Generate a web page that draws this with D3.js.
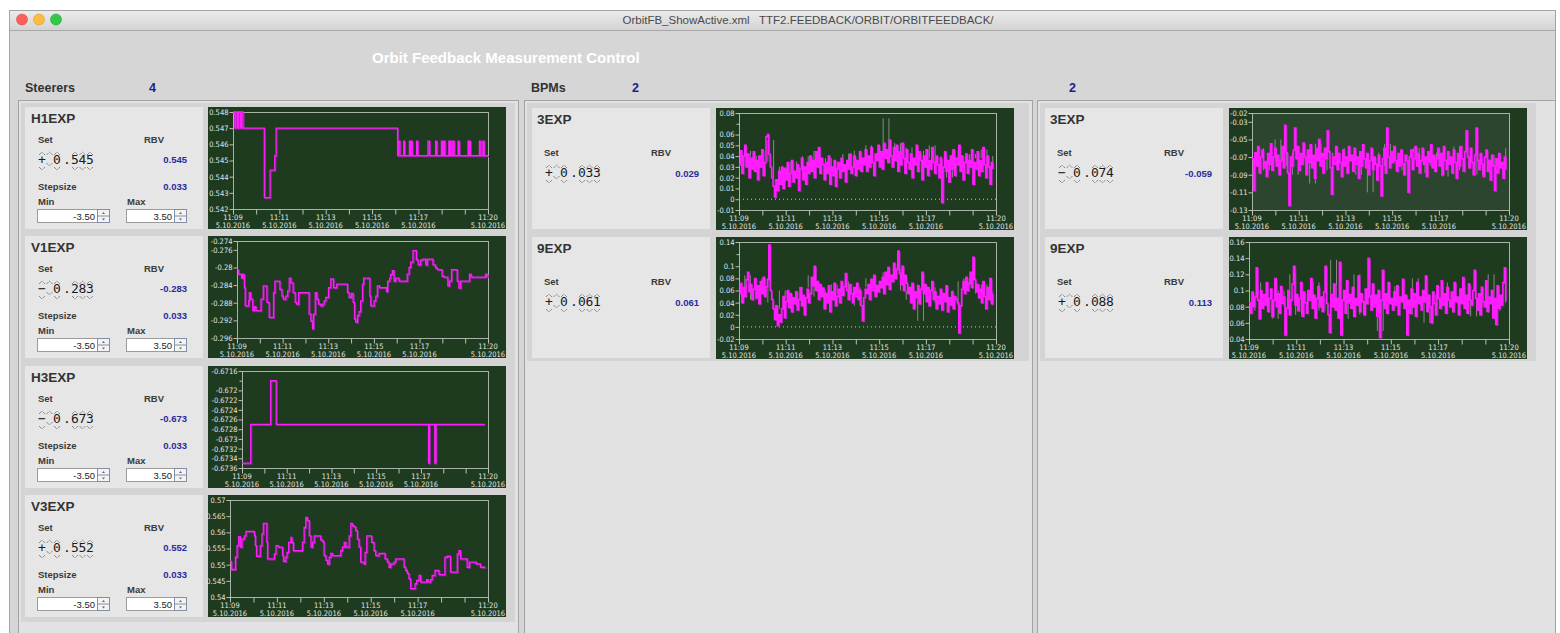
<!DOCTYPE html>
<html><head><meta charset="utf-8">
<script src="https://cdn.jsdelivr.net/npm/d3@7"></script>
<style>
html,body{margin:0;padding:0;background:#fff;overflow:hidden;}
svg{display:block;}
</style></head>
<body><svg id="screen" width="1560" height="633"></svg>
<script>
// ---------- panel content ----------
const windowTitle = "OrbitFB_ShowActive.xml   TTF2.FEEDBACK/ORBIT/ORBITFEEDBACK/";
const mainTitle = "Orbit Feedback Measurement Control";
const steererCount = 4, bpmCountA = 2, bpmCountB = 2;

const steererNames = ["H1EXP", "V1EXP", "H3EXP", "V3EXP"];
const steererSet = ["+0.545", "-0.283", "-0.673", "+0.552"];
const steererRbv = ["0.545", "-0.283", "-0.673", "0.552"];
const steererStep = ["0.033", "0.033", "0.033", "0.033"];
const steererMin = ["-3.50", "-3.50", "-3.50", "-3.50"];
const steererMax = ["3.50", "3.50", "3.50", "3.50"];

const bpmNames = ["3EXP", "9EXP"];
const bpmSetA = ["+0.033", "+0.061"];
const bpmRbvA = ["0.029", "0.061"];
const bpmSetB = ["-0.074", "+0.088"];
const bpmRbvB = ["-0.059", "0.113"];

// ---------- time axis (minutes after 11:09, 5.10.2016) ----------
const dateLabel = "5.10.2016";
const xTickMinutes = [0, 1, 2, 3, 4, 5, 6, 7, 8, 9, 10, 11];
const xLabelMinutes = [0, 2, 4, 6, 8, 11];

// ---------- y ticks ----------
const h1Ticks = [0.542, 0.543, 0.544, 0.545, 0.546, 0.547, 0.548];
const v1Ticks = [-0.296, -0.292, -0.288, -0.284, -0.28, -0.276, -0.274];
const h3Ticks = [-0.6736, -0.6734, -0.6732, -0.673, -0.6728, -0.6726, -0.6724, -0.6722, -0.672, -0.6716];
const h3Unlabeled = [-0.6718];
const v3Ticks = [0.54, 0.545, 0.55, 0.555, 0.56, 0.565, 0.57];
const a3Ticks = [-0.01, 0, 0.01, 0.02, 0.03, 0.04, 0.05, 0.06, 0.08];
const a3Unlabeled = [0.07];
const a9Ticks = [-0.02, 0, 0.02, 0.04, 0.06, 0.08, 0.1, 0.14];
const a9Unlabeled = [0.12];
const b3Ticks = [-0.13, -0.11, -0.09, -0.07, -0.05, -0.03, -0.02];
const b9Ticks = [0.04, 0.06, 0.08, 0.1, 0.12, 0.14, 0.16];

// ---------- steerer traces (step series) ----------
const h1Time = [0, 0.08, 0.12, 0.2, 0.24, 0.32, 0.36, 0.43, 1.35, 1.6, 1.8, 1.86, 7.1, 7.13, 7.2, 7.36, 7.4, 7.61, 7.65, 7.68, 7.73, 7.92, 7.97, 8.41, 8.48, 8.74, 8.79, 8.99, 9.03, 9.06, 9.1, 9.12, 9.14, 9.31, 9.35, 9.37, 9.41, 9.48, 9.54, 9.71, 9.76, 10.14, 10.18, 10.2, 10.24, 10.63, 10.69, 10.78, 10.83, 11];
const h1Value = [0.548, 0.547, 0.548, 0.547, 0.548, 0.547, 0.548, 0.547, 0.5427, 0.5444, 0.5453, 0.547, 0.5453, 0.5462, 0.5453, 0.5462, 0.5453, 0.5462, 0.5453, 0.5462, 0.5453, 0.5462, 0.5453, 0.5462, 0.5453, 0.5462, 0.5453, 0.5462, 0.5453, 0.5462, 0.5453, 0.5462, 0.5453, 0.5462, 0.5453, 0.5462, 0.5453, 0.5462, 0.5453, 0.5462, 0.5453, 0.5462, 0.5453, 0.5462, 0.5453, 0.5462, 0.5453, 0.5462, 0.5453, 0.5453];

const v1Time = [0, 0.06, 0.2, 0.25, 0.32, 0.36, 0.51, 0.54, 0.6, 0.69, 0.76, 0.83, 1.05, 1.15, 1.31, 1.41, 1.6, 1.66, 1.88, 1.97, 2.03, 2.14, 2.22, 2.29, 2.36, 2.46, 2.55, 2.61, 2.7, 3.16, 3.24, 3.31, 3.35, 3.43, 3.5, 3.57, 3.67, 3.75, 3.82, 3.89, 4.01, 4.11, 4.23, 4.37, 4.84, 4.91, 5.01, 5.09, 5.15, 5.2, 5.28, 5.35, 5.42, 5.5, 5.55, 5.82, 5.86, 6.01, 6.08, 6.15, 6.25, 6.55, 6.6, 6.69, 6.73, 6.81, 6.88, 6.95, 7.1, 7.46, 7.54, 7.61, 7.71, 7.86, 7.94, 8.05, 8.15, 8.27, 8.34, 8.59, 8.7, 8.78, 8.99, 9.07, 9.24, 9.31, 9.4, 9.65, 9.72, 9.8, 10.19, 10.26, 10.89, 10.96];
const v1Value = [-0.2805, -0.2815, -0.2824, -0.2816, -0.2846, -0.2887, -0.2876, -0.2857, -0.2872, -0.2898, -0.2889, -0.2898, -0.2872, -0.2842, -0.2879, -0.2913, -0.2857, -0.2831, -0.285, -0.2865, -0.2872, -0.2865, -0.2853, -0.2824, -0.2835, -0.2857, -0.2879, -0.2883, -0.2857, -0.2906, -0.2922, -0.2939, -0.2906, -0.2857, -0.2872, -0.2883, -0.2887, -0.2883, -0.2876, -0.2868, -0.2846, -0.2826, -0.2846, -0.2838, -0.2857, -0.2868, -0.2859, -0.2879, -0.2917, -0.2924, -0.2909, -0.29, -0.2876, -0.2838, -0.2824, -0.2865, -0.2887, -0.2876, -0.2865, -0.2842, -0.2846, -0.2855, -0.2831, -0.2824, -0.2816, -0.2807, -0.2831, -0.2824, -0.2831, -0.2815, -0.28, -0.2788, -0.2762, -0.2783, -0.2794, -0.2783, -0.2781, -0.2794, -0.2781, -0.2794, -0.2801, -0.2805, -0.282, -0.2822, -0.2842, -0.2831, -0.2805, -0.2831, -0.2847, -0.2831, -0.2815, -0.2822, -0.2815, -0.2822];

const h3Time = [0, 0.39, 1.28, 1.53, 8.34, 8.38, 8.62, 8.67, 10.85];
const h3Value = [-0.6735, -0.6727, -0.6718, -0.6727, -0.6735, -0.6727, -0.6735, -0.6727, -0.6727];

const v3Time = [0, 0.06, 0.23, 0.3, 0.37, 0.44, 0.51, 0.61, 0.68, 1.04, 1.08, 1.13, 1.29, 1.36, 1.42, 1.57, 1.6, 1.89, 1.96, 2.07, 2.24, 2.28, 2.38, 2.43, 2.5, 2.6, 2.64, 2.7, 3.09, 3.16, 3.23, 3.3, 3.38, 3.45, 3.52, 3.59, 3.87, 3.97, 4.01, 4.09, 4.16, 4.23, 4.3, 4.37, 4.72, 4.79, 4.87, 4.94, 5.08, 5.15, 5.22, 5.29, 5.36, 5.43, 5.5, 5.57, 5.72, 5.76, 5.83, 6.04, 6.14, 6.21, 6.35, 6.61, 6.71, 6.78, 6.85, 6.99, 7.06, 7.42, 7.49, 7.56, 7.63, 7.7, 7.89, 7.96, 8.06, 8.13, 8.38, 8.45, 8.55, 8.62, 8.74, 8.91, 9.16, 9.26, 9.4, 9.69, 9.76, 9.83, 10.11, 10.21, 10.5, 10.68, 10.89];
const v3Value = [0.551, 0.5485, 0.5523, 0.5559, 0.5587, 0.5554, 0.5579, 0.5589, 0.5603, 0.5589, 0.5559, 0.5526, 0.5559, 0.5595, 0.5628, 0.5569, 0.5518, 0.5533, 0.5559, 0.5554, 0.5528, 0.551, 0.5523, 0.5538, 0.5569, 0.5584, 0.5569, 0.5543, 0.5569, 0.5615, 0.5646, 0.5636, 0.5589, 0.5554, 0.5569, 0.5589, 0.5576, 0.5569, 0.5528, 0.5513, 0.5502, 0.5523, 0.5535, 0.5528, 0.5543, 0.5554, 0.5569, 0.5554, 0.5589, 0.5628, 0.562, 0.5617, 0.5605, 0.5579, 0.5554, 0.5508, 0.5502, 0.5538, 0.5589, 0.5569, 0.5543, 0.5528, 0.5535, 0.5518, 0.5508, 0.5492, 0.5502, 0.5508, 0.5518, 0.5492, 0.5482, 0.5472, 0.5456, 0.5426, 0.5441, 0.5451, 0.5467, 0.5446, 0.5454, 0.5446, 0.5454, 0.5467, 0.5482, 0.5469, 0.5523, 0.5526, 0.5477, 0.5533, 0.5543, 0.5518, 0.5492, 0.5508, 0.5502, 0.5492, 0.5492];

// ---------- BPM readings (uniformly sampled over bpmSpan minutes) ----------
const bpmSpan = 10.86;
const a3Value = [
  0.032, 0.045, 0.024, 0.040, 0.050, 0.030, 0.042, 0.020, 0.038, 0.028,
  0.044, 0.026, 0.036, 0.018, 0.040, 0.030, 0.046, 0.022, 0.034, 0.058,
  0.060, 0.042, 0.030, 0.020, 0.012, 0.002, 0.018, 0.008, 0.026, 0.014,
  0.030, 0.010, 0.028, 0.018, 0.034, 0.012, 0.024, 0.036, 0.016, 0.026,
  0.020, 0.032, 0.008, 0.028, 0.038, 0.018, 0.030, 0.014, 0.034, 0.024,
  0.040, 0.026, 0.036, 0.020, 0.044, 0.030, 0.048, 0.024, 0.038, 0.032,
  0.018, 0.034, 0.024, 0.040, 0.014, 0.030, 0.022, 0.036, 0.012, 0.028,
  0.034, 0.020, 0.038, 0.026, 0.032, 0.016, 0.036, 0.028, 0.042, 0.024,
  0.030, 0.040, 0.022, 0.036, 0.028, 0.044, 0.026, 0.038, 0.032, 0.046,
  0.026, 0.040, 0.030, 0.048, 0.034, 0.022, 0.042, 0.036, 0.050, 0.030,
  0.044, 0.028, 0.052, 0.038, 0.046, 0.034, 0.055, 0.040, 0.030, 0.048,
  0.036, 0.050, 0.026, 0.044, 0.032, 0.052, 0.038, 0.024, 0.046, 0.034,
  0.028, 0.042, 0.020, 0.038, 0.032, 0.050, 0.026, 0.044, 0.036, 0.018,
  0.040, 0.030, 0.046, 0.022, 0.036, 0.028, 0.048, 0.034, 0.024, 0.040,
  0.032, 0.020, 0.038, -0.003, 0.030, 0.044, 0.026, 0.036, 0.016, 0.040,
  0.028, 0.046, 0.022, 0.038, 0.032, 0.050, 0.026, 0.040, 0.018, 0.034,
  0.042, 0.024, 0.036, 0.030, 0.046, 0.014, 0.034, 0.028, 0.044, 0.022,
  0.036, 0.026, 0.048, 0.032, 0.020, 0.040, 0.030, 0.014, 0.034, 0.028];
const a3Ref = [0.030, 0.045, 0.025, 0.040, 0.035, 0.055, 0.020, 0.030, 0.015, 0.035, 0.025, 0.040, 0.030, 0.045, 0.028, 0.038, 0.020, 0.035, 0.042, 0.030, 0.045, 0.035, 0.050, 0.038, 0.040, 0.075, 0.042, 0.052, 0.035, 0.048, 0.030, 0.045, 0.038, 0.050, 0.030, 0.040, 0.020, 0.045, 0.035, 0.025, 0.042, 0.038, 0.046, 0.030, 0.040];

const a9Value = [
  0.055, 0.072, 0.040, 0.065, 0.050, 0.078, 0.090, 0.058, 0.070, 0.045,
  0.062, 0.080, 0.048, 0.068, 0.038, 0.075, 0.055, 0.082, 0.050, 0.066,
  0.078, 0.135, 0.060, 0.045, 0.030, 0.012, 0.035, 0.002, 0.020, 0.008,
  0.030, 0.050, 0.015, 0.042, 0.060, 0.032, 0.055, 0.025, 0.048, 0.038,
  0.058, 0.028, 0.045, 0.065, 0.035, 0.052, 0.020, 0.048, 0.062, 0.040,
  0.055, 0.082, 0.068, 0.100, 0.060, 0.075, 0.045, 0.070, 0.050, 0.064,
  0.030, 0.055, 0.040, 0.068, 0.025, 0.058, 0.045, 0.072, 0.035, 0.050,
  0.062, 0.040, 0.075, 0.052, 0.066, 0.088, 0.060, 0.045, 0.070, 0.055,
  0.040, 0.065, 0.050, 0.072, 0.045, 0.060, 0.035, 0.010, 0.048, 0.062,
  0.055, 0.070, 0.045, 0.078, 0.060, 0.085, 0.050, 0.068, 0.058, 0.075,
  0.065, 0.082, 0.055, 0.090, 0.070, 0.098, 0.062, 0.085, 0.075, 0.105,
  0.080, 0.095, 0.125, 0.088, 0.070, 0.100, 0.060, 0.085, 0.072, 0.055,
  0.065, 0.040, 0.072, 0.030, 0.058, 0.048, 0.068, 0.038, 0.062, 0.090,
  0.055, 0.070, 0.042, 0.065, 0.035, 0.060, 0.075, 0.045, 0.058, 0.030,
  0.050, 0.038, 0.062, 0.028, 0.055, 0.042, 0.068, 0.025, 0.048, 0.036,
  0.058, 0.030, 0.050, 0.045, 0.040, -0.010, 0.035, 0.062, 0.075, 0.055,
  0.082, 0.060, 0.072, 0.090, 0.065, 0.115, 0.078, 0.058, 0.070, 0.048,
  0.062, 0.040, 0.075, 0.050, 0.030, 0.065, 0.045, 0.080, 0.038, 0.055];
const a9Ref = [0.055, 0.085, 0.045, 0.065, 0.080, 0.040, 0.030, 0.060, 0.045, 0.055, 0.035, 0.065, 0.085, 0.050, 0.060, 0.040, 0.070, 0.055, 0.075, 0.050, 0.035, 0.065, 0.080, 0.060, 0.070, 0.090, 0.075, 0.095, 0.060, 0.045, 0.070, 0.010, 0.055, 0.065, 0.040, 0.050, 0.060, 0.035, 0.075, 0.080, 0.065, 0.055, 0.070, 0.045, 0.060];

const b3Value = [
  -0.072, -0.108, -0.065, -0.080, -0.058, -0.088, -0.070, -0.062, -0.082, -0.075,
  -0.092, -0.066, -0.078, -0.055, -0.085, -0.070, -0.060, -0.080, -0.068, -0.090,
  -0.074, -0.058, -0.082, -0.034, -0.065, -0.088, -0.125, -0.070, -0.080, -0.062,
  -0.037, -0.072, -0.058, -0.085, -0.066, -0.078, -0.054, -0.070, -0.090, -0.062,
  -0.076, -0.056, -0.082, -0.068, -0.094, -0.060, -0.074, -0.050, -0.080, -0.066,
  -0.088, -0.060, -0.072, -0.040, -0.064, -0.082, -0.112, -0.070, -0.078, -0.058,
  -0.084, -0.066, -0.076, -0.092, -0.062, -0.080, -0.070, -0.088, -0.058, -0.074,
  -0.068, -0.086, -0.060, -0.078, -0.070, -0.094, -0.064, -0.080, -0.056, -0.072,
  -0.082, -0.066, -0.090, -0.074, -0.060, -0.084, -0.070, -0.078, -0.096, -0.068,
  -0.080, -0.114, -0.072, -0.060, -0.088, -0.037, -0.070, -0.082, -0.064, -0.076,
  -0.058, -0.074, -0.086, -0.066, -0.080, -0.062, -0.078, -0.090, -0.068, -0.074,
  -0.110, -0.070, -0.062, -0.084, -0.072, -0.058, -0.080, -0.066, -0.088, -0.074,
  -0.060, -0.078, -0.070, -0.092, -0.064, -0.076, -0.056, -0.082, -0.068, -0.086,
  -0.072, -0.060, -0.080, -0.066, -0.090, -0.058, -0.074, -0.084, -0.064, -0.078,
  -0.070, -0.088, -0.062, -0.076, -0.094, -0.066, -0.080, -0.058, -0.072, -0.086,
  -0.064, -0.040, -0.070, -0.082, -0.060, -0.076, -0.090, -0.068, -0.037, -0.074,
  -0.084, -0.066, -0.078, -0.092, -0.070, -0.062, -0.086, -0.074, -0.096, -0.068,
  -0.080, -0.108, -0.072, -0.088, -0.066, -0.082, -0.076, -0.094, -0.070, -0.084];
const b3Ref = [-0.070, -0.060, -0.085, -0.075, -0.050, -0.080, -0.065, -0.090, -0.060, -0.075, -0.100, -0.055, -0.070, -0.085, -0.065, -0.080, -0.060, -0.075, -0.090, -0.070, -0.110, -0.065, -0.080, -0.055, -0.075, -0.085, -0.068, -0.078, -0.060, -0.088, -0.072, -0.080, -0.065, -0.092, -0.070, -0.058, -0.085, -0.075, -0.062, -0.090, -0.072, -0.080, -0.068, -0.078, -0.060];

const b9Value = [
  0.085, 0.072, 0.098, 0.080, 0.092, 0.128, 0.088, 0.065, 0.100, 0.078,
  0.095, 0.082, 0.110, 0.074, 0.090, 0.102, 0.068, 0.088, 0.115, 0.080,
  0.096, 0.072, 0.105, 0.084, 0.092, 0.045, 0.078, 0.100, 0.070, 0.088,
  0.108, 0.130, 0.082, 0.095, 0.075, 0.090, 0.110, 0.068, 0.098, 0.085,
  0.072, 0.100, 0.088, 0.115, 0.078, 0.094, 0.066, 0.090, 0.105, 0.080,
  0.092, 0.074, 0.098, 0.130, 0.084, 0.070, 0.048, 0.095, 0.080, 0.108,
  0.076, 0.090, 0.066, 0.135, 0.045, 0.088, 0.100, 0.072, 0.112, 0.085,
  0.095, 0.078, 0.104, 0.068, 0.090, 0.082, 0.118, 0.074, 0.096, 0.086,
  0.070, 0.102, 0.084, 0.140, 0.092, 0.076, 0.108, 0.080, 0.094, 0.068,
  0.100, 0.042, 0.088, 0.125, 0.078, 0.096, 0.072, 0.110, 0.084, 0.090,
  0.076, 0.098, 0.082, 0.106, 0.070, 0.092, 0.086, 0.114, 0.078, 0.094,
  0.045, 0.088, 0.072, 0.102, 0.080, 0.096, 0.068, 0.110, 0.084, 0.092,
  0.076, 0.100, 0.086, 0.118, 0.074, 0.094, 0.080, 0.060, 0.098, 0.084,
  0.070, 0.106, 0.090, 0.078, 0.112, 0.082, 0.096, 0.072, 0.104, 0.088,
  0.080, 0.098, 0.074, 0.110, 0.086, 0.092, 0.070, 0.102, 0.084, 0.116,
  0.078, 0.094, 0.072, 0.108, 0.088, 0.082, 0.100, 0.125, 0.090, 0.076,
  0.096, 0.070, 0.104, 0.086, 0.080, 0.112, 0.074, 0.092, 0.084, 0.100,
  0.066, 0.090, 0.058, 0.106, 0.078, 0.094, 0.082, 0.110, 0.128, 0.088];
const b9Ref = [0.090, 0.075, 0.110, 0.085, 0.065, 0.100, 0.080, 0.120, 0.070, 0.095, 0.085, 0.110, 0.075, 0.090, 0.138, 0.080, 0.065, 0.100, 0.120, 0.070, 0.085, 0.095, 0.050, 0.088, 0.105, 0.078, 0.092, 0.070, 0.115, 0.085, 0.060, 0.095, 0.080, 0.110, 0.072, 0.090, 0.085, 0.105, 0.068, 0.095, 0.080, 0.120, 0.075, 0.090, 0.085];

// ---------- drawing ----------
const svg = d3.select("#screen");
const FONT = "'Liberation Sans', Arial, Helvetica, sans-serif";
const NARROW = "'Liberation Sans Narrow', 'DejaVu Sans Condensed', 'Liberation Sans', sans-serif";
const MONO = "'DejaVu Sans Mono', 'Liberation Mono', monospace";
const T0 = new Date(2016, 9, 5, 11, 9);
const atMinute = m => new Date(T0.getTime() + m * 60000);
const defs = svg.append("defs");

// window frame
svg.append("rect").attr("width", 1560).attr("height", 633).attr("fill", "#ffffff");
svg.append("rect").attr("x", 9.5).attr("y", 10.5).attr("width", 1546).attr("height", 630)
  .attr("fill", "#d6d6d6").attr("stroke", "#a4a4a4");
const tb = defs.append("linearGradient").attr("id", "titlebar").attr("x1", 0).attr("y1", 0).attr("x2", 0).attr("y2", 1);
tb.append("stop").attr("offset", "0%").attr("stop-color", "#ebebeb");
tb.append("stop").attr("offset", "100%").attr("stop-color", "#d3d3d3");
svg.append("rect").attr("x", 10).attr("y", 11).attr("width", 1545).attr("height", 19).attr("fill", "url(#titlebar)");
svg.append("line").attr("x1", 10).attr("x2", 1556).attr("y1", 30.5).attr("y2", 30.5).attr("stroke", "#a8a8a8");
[["#fc605c", "#de4a46", 22], ["#fdbc40", "#de9e2c", 39], ["#34c84a", "#27aa36", 56]].forEach(([f, s, cx]) => {
  svg.append("circle").attr("cx", cx).attr("cy", 19.5).attr("r", 5.5).attr("fill", f).attr("stroke", s).attr("stroke-width", 0.6);
});
svg.append("text").attr("x", 808).attr("y", 24).attr("text-anchor", "middle")
  .attr("font-family", FONT).attr("font-size", 11.5).attr("fill", "#4a4a4a")
  .style("white-space", "pre").text(windowTitle);

svg.append("text").attr("x", 372).attr("y", 63).attr("font-family", FONT).attr("font-weight", "bold")
  .attr("font-size", 15).attr("fill", "#ffffff").text(mainTitle);

function header(x, label, count, cx) {
  if (label) svg.append("text").attr("x", x).attr("y", 92).attr("font-family", FONT).attr("font-weight", "bold")
    .attr("font-size", 12.5).attr("fill", "#333").text(label);
  svg.append("text").attr("x", cx).attr("y", 92).attr("font-family", FONT).attr("font-weight", "bold")
    .attr("font-size", 12.5).attr("fill", "#1c1c8e").text(count);
}
header(25, "Steerers", steererCount, 149);
header(531, "BPMs", bpmCountA, 632);
header(0, null, bpmCountB, 1069);

// column containers with the darker strip behind the rows
function container(x, w, stripH, stripW) {
  svg.append("rect").attr("x", x + 0.5).attr("y", 100.5).attr("width", w).attr("height", 545)
    .attr("fill", "#e2e2e2").attr("stroke", "#a2a2a2");
  svg.append("rect").attr("x", x + 3).attr("y", 103).attr("width", stripW).attr("height", stripH).attr("fill", "#d4d4d4");
}
container(18, 500, 519, 494);
container(524, 508, 258, 502);
container(1037, 518, 258, 496);

function txt(g, x, y, s, opt = {}) {
  return g.append("text").attr("x", x).attr("y", y).attr("font-family", opt.family || FONT)
    .attr("font-weight", opt.weight || "bold").attr("font-size", opt.size || 9.5)
    .attr("fill", opt.fill || "#3a3a3a").attr("text-anchor", opt.anchor || "start").text(s);
}

// wheel-style set value: sign, hidden slot, digits, each with dotted up/down chevrons
function setValue(g, x0, y0, s) {
  const sign = s[0], body = s.slice(1);
  const slots = [{c: sign, x: 4}, {c: "", x: 11.5, low: true}];
  const pos = [19, 29, 37, 44.5, 52];
  body.split("").forEach((c, i) => slots.push({c, x: pos[i]}));
  slots.forEach(sl => {
    if (sl.c) g.append("text").attr("x", x0 + sl.x).attr("y", y0).attr("text-anchor", "middle")
      .attr("font-family", MONO).attr("font-size", 13).attr("fill", "#1a1a1a").text(sl.c === "-" ? "\u2212" : sl.c);
    if (sl.c === ".") return;
    const cx = x0 + sl.x;
    const up = y0 - 12, dn = sl.low ? y0 - 1 : y0 + 3;
    g.append("path").attr("d", `M${cx - 3},${up + 3}L${cx},${up}L${cx + 3},${up + 3}`)
      .attr("fill", "none").attr("stroke", "#555").attr("stroke-width", 0.9).attr("stroke-dasharray", "1,0.8");
    g.append("path").attr("d", `M${cx - 3},${dn}L${cx},${dn + 3}L${cx + 3},${dn}`)
      .attr("fill", "none").attr("stroke", "#555").attr("stroke-width", 0.9).attr("stroke-dasharray", "1,0.8");
  });
}

function spinBox(g, x, y, w, s) {
  g.append("rect").attr("x", x + 0.5).attr("y", y + 0.5).attr("width", w).attr("height", 13)
    .attr("fill", "#ffffff").attr("stroke", "#9b9b9b");
  txt(g, x + w - 2, y + 10.5, s, {weight: "normal", size: 9.5, anchor: "end", fill: "#222"});
  const sx = x + w + 0.5;
  g.append("rect").attr("x", sx).attr("y", y + 0.5).attr("width", 12).attr("height", 13)
    .attr("fill", "#f3f3f3").attr("stroke", "#8190a8");
  g.append("line").attr("x1", sx).attr("x2", sx + 12).attr("y1", y + 7).attr("y2", y + 7).attr("stroke", "#8190a8");
  g.append("path").attr("d", `M${sx + 4.5},${y + 5}L${sx + 6},${y + 3}L${sx + 7.5},${y + 5}Z`).attr("fill", "#666");
  g.append("path").attr("d", `M${sx + 4.5},${y + 9.5}L${sx + 6},${y + 11.5}L${sx + 7.5},${y + 9.5}Z`).attr("fill", "#666");
}

function steererPanel(x, y, i) {
  const g = svg.append("g");
  g.append("rect").attr("x", x).attr("y", y).attr("width", 178).attr("height", 122).attr("fill", "#e6e6e6");
  txt(g, x + 6, y + 16, steererNames[i], {size: 13.5, fill: "#333"});
  txt(g, x + 13, y + 36, "Set");
  txt(g, x + 119, y + 36, "RBV");
  setValue(g, x + 13, y + 57, steererSet[i]);
  txt(g, x + 162, y + 56, steererRbv[i], {fill: "#2a2aa0", anchor: "end"});
  txt(g, x + 13, y + 83, "Stepsize");
  txt(g, x + 162, y + 83, steererStep[i], {fill: "#2a2aa0", anchor: "end"});
  txt(g, x + 13, y + 98, "Min");
  txt(g, x + 102, y + 98, "Max");
  spinBox(g, x + 12, y + 102, 60, steererMin[i]);
  spinBox(g, x + 101, y + 102, 48, steererMax[i]);
}

function bpmPanel(x, y, name, setV, rbv) {
  const g = svg.append("g");
  g.append("rect").attr("x", x).attr("y", y).attr("width", 178).attr("height", 121).attr("fill", "#e6e6e6");
  txt(g, x + 5, y + 16, name, {size: 13.5, fill: "#333"});
  txt(g, x + 12, y + 48, "Set");
  txt(g, x + 119, y + 48, "RBV");
  setValue(g, x + 13, y + 69, setV);
  txt(g, x + 167, y + 69, rbv, {fill: "#2a2aa0", anchor: "end"});
}

const fmtTick = v => String(+v.toFixed(5));
let clipId = 0;

function trend(cfg) {
  const g = svg.append("g").attr("transform", `translate(${cfg.x},${cfg.y})`);
  const W = 298, H = 122;
  g.append("rect").attr("width", W).attr("height", H).attr("fill", "#1e3a1f");
  const left = cfg.plotLeft, right = 280, top = 5, bottom = 102;
  const x = d3.scaleTime().domain([atMinute(0), atMinute(11)]).range([left, right]);
  const yDom = d3.extent(cfg.ticks.concat(cfg.unlabeled || []));
  const y = d3.scaleLinear().domain(yDom).range([bottom, top]);
  g.append("rect").attr("x", left + 0.5).attr("y", top + 0.5).attr("width", right - left).attr("height", bottom - top)
    .attr("fill", cfg.plotFill || "none");

  const id = "clip" + (clipId++);
  defs.append("clipPath").attr("id", id).append("rect")
    .attr("x", cfg.x + left).attr("y", cfg.y + top - 1).attr("width", right - left + 1).attr("height", bottom - top + 2);

  if (cfg.zero) g.append("line").attr("x1", left).attr("x2", right).attr("y1", y(0)).attr("y2", y(0))
    .attr("stroke", "#c9c9c9").attr("stroke-width", 1).attr("stroke-dasharray", "1,3");

  const layer = svg.append("g").attr("clip-path", `url(#${id})`)
    .append("g").attr("transform", `translate(${cfg.x},${cfg.y})`);
  cfg.series.forEach(s => {
    const pts = s.time.map((t, i) => [t, s.value[i]]);
    if (s.sticks) {
      // secondary record: only the vertical jumps between successive readings
      const p = d3.path();
      pts.forEach((d, i) => {
        if (i === 0) return;
        const xx = x(atMinute(d[0]));
        p.moveTo(xx, y(pts[i - 1][1]));
        p.lineTo(xx, y(d[1]));
      });
      layer.append("path").attr("d", p.toString()).attr("fill", "none")
        .attr("stroke", s.color).attr("stroke-width", s.width).attr("stroke-opacity", s.opacity || 1);
      return;
    }
    const line = d3.line().x(d => x(atMinute(d[0]))).y(d => y(d[1])).curve(d3.curveStepAfter);
    if (s.shadow) layer.append("path").attr("d", line(pts)).attr("fill", "none")
      .attr("stroke", s.shadow).attr("stroke-width", s.shadowWidth || 1.2).attr("transform", "translate(1,1)");
    layer.append("path").attr("d", line(pts)).attr("fill", "none")
      .attr("stroke", s.color).attr("stroke-width", s.width).attr("stroke-opacity", s.opacity || 1);
  });

  // frame
  g.append("rect").attr("x", left + 0.5).attr("y", top + 0.5).attr("width", right - left).attr("height", bottom - top)
    .attr("fill", "none").attr("stroke", "#a9b2a6").attr("stroke-width", 1);

  const yAxis = g.append("g").attr("transform", `translate(${left + 0.5},0)`)
    .call(d3.axisLeft(y).tickValues(cfg.ticks).tickFormat(fmtTick).tickSize(4).tickPadding(1));
  if (cfg.unlabeled) g.append("g").attr("transform", `translate(${left + 0.5},0)`)
    .call(d3.axisLeft(y).tickValues(cfg.unlabeled).tickFormat("").tickSize(3));
  g.append("g").attr("transform", `translate(0,${bottom + 0.5})`)
    .call(d3.axisBottom(x).tickValues(xTickMinutes.map(atMinute)).tickFormat("").tickSize(5));
  g.selectAll(".domain").remove();
  g.selectAll(".tick line").attr("stroke", "#b9c2b6");
  yAxis.selectAll("text").attr("fill", "#e4e4e4").attr("font-family", NARROW).attr("font-size", 7.5);

  xLabelMinutes.forEach(m => {
    const t = g.append("text").attr("x", x(atMinute(m))).attr("y", bottom + 11).attr("text-anchor", "middle")
      .attr("font-family", NARROW).attr("font-size", 7.5).attr("fill", "#e4e4e4");
    t.append("tspan").attr("x", x(atMinute(m))).text(d3.timeFormat("%H:%M")(atMinute(m)));
    t.append("tspan").attr("x", x(atMinute(m))).attr("dy", 7.5).text(dateLabel);
  });
}

const rowsS = [107, 236, 366, 495];
const steerCharts = [
  {ticks: h1Ticks, plotLeft: 25, time: h1Time, value: h1Value},
  {ticks: v1Ticks, plotLeft: 29, time: v1Time, value: v1Value},
  {ticks: h3Ticks, unlabeled: h3Unlabeled, plotLeft: 34, time: h3Time, value: h3Value},
  {ticks: v3Ticks, plotLeft: 22, time: v3Time, value: v3Value}
];
rowsS.forEach((ry, i) => {
  steererPanel(25, ry, i);
  const c = steerCharts[i];
  trend({x: 208, y: ry, ticks: c.ticks, unlabeled: c.unlabeled, plotLeft: c.plotLeft,
    series: [{time: c.time, value: c.value, color: "#ff1cff", width: 1.3, shadow: "#93289a"}]});
});

const sampleTimes = arr => arr.map((_, i) => i * bpmSpan / (arr.length - 1));
const rowsB = [108, 237];
const bpmChartsA = [
  {ticks: a3Ticks, unlabeled: a3Unlabeled, value: a3Value, ref: a3Ref, plotLeft: 23},
  {ticks: a9Ticks, unlabeled: a9Unlabeled, value: a9Value, ref: a9Ref, plotLeft: 23}
];
const bpmChartsB = [
  {ticks: b3Ticks, value: b3Value, ref: b3Ref, plotLeft: 23, plotFill: "#2c452f"},
  {ticks: b9Ticks, value: b9Value, ref: b9Ref, plotLeft: 20}
];
const noisy = c => [
  {time: sampleTimes(c.ref), value: c.ref, color: "#8f958c", width: 1, opacity: 0.9, sticks: true},
  {time: sampleTimes(c.value), value: c.value, color: "#ff1cff", width: 1.5, shadow: "#9a2aa0", shadowWidth: 1}
];
rowsB.forEach((ry, i) => {
  bpmPanel(532, ry, bpmNames[i], bpmSetA[i], bpmRbvA[i]);
  const a = bpmChartsA[i];
  trend({x: 716, y: ry, ticks: a.ticks, unlabeled: a.unlabeled, plotLeft: a.plotLeft, zero: true, series: noisy(a)});
  bpmPanel(1045, ry, bpmNames[i], bpmSetB[i], bpmRbvB[i]);
  const b = bpmChartsB[i];
  trend({x: 1229, y: ry, ticks: b.ticks, plotLeft: b.plotLeft, plotFill: b.plotFill, series: noisy(b)});
});
</script>
</body></html>
